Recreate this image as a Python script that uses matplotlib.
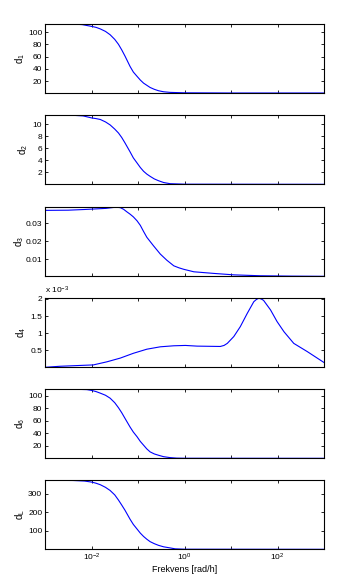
#!/usr/bin/env python3
"""Six stacked frequency responses d_1 ... d_L versus frequency (log x)."""
import matplotlib

matplotlib.use("Agg")

import matplotlib.pyplot as plt
import numpy as np
from matplotlib.ticker import FixedLocator, FuncFormatter

plt.rcParams["font.family"] = ["Liberation Sans", "DejaVu Sans"]
plt.rcParams["mathtext.fontset"] = "custom"
plt.rcParams["mathtext.rm"] = "Liberation Sans"
plt.rcParams["mathtext.it"] = "Liberation Sans"

# log10 of frequency [rad/h] and the read-off values for each panel
LOGF_D1 = [-3.0, -2.42, -2.2, -1.99, -1.9, -1.81, -1.7, -1.60, -1.5, -1.42,
           -1.35, -1.28, -1.17, -1.1, -1.02, -0.95, -0.88, -0.81, -0.74, -0.65,
           -0.56, -0.45, -0.31, 0.0, 1.0, 2.0, 3.0]
D1 = [113, 113, 112, 109, 107.5, 105, 101, 95.6, 88, 80,
      71, 61, 44, 35, 28, 22, 17, 13.5, 10, 7,
      4.7, 3.0, 2.0, 1.3, 1.0, 1.0, 1.0]

LOGF_D2 = [-3.0, -2.4, -2.18, -1.99, -1.9, -1.81, -1.7, -1.60, -1.5, -1.42,
           -1.35, -1.28, -1.17, -1.1, -1.02, -0.95, -0.88, -0.81, -0.74, -0.65,
           -0.56, -0.45, -0.31, 0.0, 3.0]
D2 = [11.5, 11.5, 11.4, 11.05, 10.95, 10.8, 10.4, 9.9, 9.2, 8.55,
      7.8, 6.9, 5.4, 4.4, 3.55, 2.8, 2.17, 1.7, 1.33, 0.9,
      0.6, 0.3, 0.1, 0.02, 0.0]

LOGF_D3 = [-3.0, -2.5, -2.14, -1.69, -1.53, -1.45, -1.38, -1.31, -1.24, -1.17,
           -1.10, -1.02, -0.95, -0.88, -0.81, -0.67, -0.52, -0.38, -0.23, -0.12,
           -0.02, 0.20, 0.63, 1.06, 1.63, 2.3, 3.0]
D3 = [0.0370, 0.0371, 0.0375, 0.0381, 0.0386, 0.0387, 0.0385, 0.0376, 0.0362, 0.0349,
      0.0334, 0.0312, 0.0287, 0.0253, 0.0221, 0.0175, 0.0128, 0.0094, 0.0063, 0.0052,
      0.0044, 0.0030, 0.0021, 0.0013, 0.0008, 0.0006, 0.0005]

LOGF_D4 = [-3.0, -2.68, -1.96, -1.67, -1.38, -1.10, -0.81, -0.52, -0.23, 0.02,
           0.27, 0.77, 0.85, 0.92, 1.06, 1.20, 1.35, 1.49, 1.55, 1.60,
           1.65, 1.70, 1.85, 1.99, 2.14, 2.35, 2.64, 3.0]
D4 = [0.0e-3, 0.03e-3, 0.07e-3, 0.16e-3, 0.27e-3, 0.41e-3, 0.53e-3, 0.60e-3, 0.63e-3, 0.64e-3,
      0.62e-3, 0.61e-3, 0.64e-3, 0.70e-3, 0.90e-3, 1.19e-3, 1.58e-3, 1.92e-3, 1.99e-3, 2.02e-3,
      2.0e-3, 1.96e-3, 1.68e-3, 1.34e-3, 1.04e-3, 0.70e-3, 0.46e-3, 0.14e-3]

LOGF_D6 = [-3.0, -2.32, -2.1, -1.99, -1.9, -1.81, -1.7, -1.60, -1.5, -1.42,
           -1.35, -1.28, -1.17, -1.1, -1.02, -0.95, -0.88, -0.81, -0.74, -0.65,
           -0.56, -0.45, -0.31, -0.17, 0.0, 3.0]
D6 = [110.5, 110.5, 110, 108.6, 106.8, 104.3, 101, 96.3, 89, 81,
      73, 64, 50, 42, 34.5, 27, 21, 15, 10.3, 7,
      4.9, 2.6, 1.1, 0.3, 0.1, 0.0]

LOGF_DL = [-3.0, -2.4, -2.15, -1.99, -1.9, -1.81, -1.7, -1.60, -1.5, -1.42,
           -1.35, -1.28, -1.17, -1.1, -1.02, -0.95, -0.88, -0.81, -0.74, -0.65,
           -0.56, -0.45, -0.31, -0.2, 0.0, 3.0]
DL = [374, 373, 370, 364, 358, 350, 336, 319, 295, 267,
      240, 212, 163, 135, 110, 88, 70, 55, 42, 31,
      22, 14, 8, 3, 1, 0.5]

LABELS = ["d$_1$", "d$_2$", "d$_3$", "d$_4$", "d$_6$", "d$_L$"]
YTICKS = [
    [20, 40, 60, 80, 100],
    [2, 4, 6, 8, 10],
    [0.01, 0.02, 0.03],
    [0.5, 1, 1.5, 2],
    [20, 40, 60, 80, 100],
    [100, 200, 300],
]
XLABEL = "Frekvens [rad/h]"

SERIES = [(LOGF_D1, D1), (LOGF_D2, D2), (LOGF_D3, D3),
          (LOGF_D4, D4), (LOGF_D6, D6), (LOGF_DL, DL)]

W, H = 345, 585
LEFT, RIGHT = 45, 324
TOPS = [24, 115.3, 207.3, 298.3, 389.3, 480.3]
AX_H = 69.0
# anchor (px) of each rotated y label
LABEL_X = [27, 30, 26, 28, 27, 27]


def xfmt(v, _pos):
    e = int(round(np.log10(v)))
    if e % 2:
        return ""
    return "10$^{%d}$" % e


def main() -> None:
    fig = plt.figure(figsize=(W / 100, H / 100), dpi=100)
    fig.patch.set_facecolor("white")

    for i, ((logf, vals), lab, yt) in enumerate(zip(SERIES, LABELS, YTICKS)):
        top = TOPS[i]
        ax = fig.add_axes([LEFT / W, 1 - (top + AX_H) / H,
                           (RIGHT - LEFT) / W, AX_H / H])
        f = 10.0 ** np.asarray(logf)
        y = np.asarray(vals, dtype=float)
        scale = 1e3 if i == 3 else 1.0
        ax.plot(f, y * scale, color="#0000ff", lw=0.8)
        ax.set_xscale("log")
        ax.set_xlim(1e-3, 1e3)
        ax.set_ylim(y.min() * scale, y.max() * scale)

        ax.xaxis.set_major_locator(FixedLocator([10.0 ** k for k in range(-3, 4)]))
        ax.xaxis.set_minor_locator(FixedLocator([]))
        if i == len(SERIES) - 1:
            ax.xaxis.set_major_formatter(FuncFormatter(xfmt))
            ax.set_xlabel(XLABEL, fontsize=6.5, labelpad=1)
        else:
            ax.set_xticklabels([])
        ax.set_yticks(yt)
        ax.set_yticklabels([("%g" % t) for t in yt])

        ax.tick_params(axis="both", which="both", direction="in", length=2.5,
                       width=0.6, top=True, right=True, labelsize=6, pad=2)
        for sp in ax.spines.values():
            sp.set_linewidth(0.8)

        ax.set_ylabel(lab, fontsize=7)
        ax.yaxis.set_label_coords((LABEL_X[i] - LEFT) / (RIGHT - LEFT), 0.5)

        if i == 3:
            ax.text(0.0, 1.03, "x 10$^{-3}$", transform=ax.transAxes,
                    fontsize=6, ha="left", va="bottom")

    fig.savefig("out.png", dpi=100)
    plt.close(fig)


if __name__ == "__main__":
    main()
